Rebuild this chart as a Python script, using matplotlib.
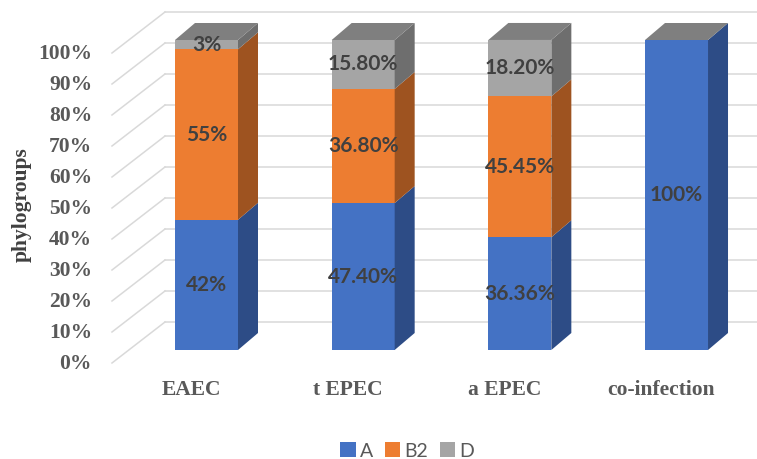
import matplotlib
matplotlib.use("Agg")
import matplotlib.pyplot as plt
from matplotlib.patches import Polygon, Rectangle, Patch

# ---- data ----
categories = ["EAEC", "t EPEC", "a EPEC", "co-infection"]
series_names = ["A", "B2", "D"]
A_vals = [42, 47.4, 36.36, 100]
B2_vals = [55, 36.8, 45.45, 0]
D_vals = [3, 15.8, 18.2, 0]
A_labels = ["42%", "47.40%", "36.36%", "100%"]
B2_labels = ["55%", "36.80%", "45.45%", ""]
D_labels = ["3%", "15.80%", "18.20%", ""]
yticks = [0, 10, 20, 30, 40, 50, 60, 70, 80, 90, 100]
ytick_labels = [f"{t}%" for t in yticks]

front_cols = ["#4472C4", "#ED7D31", "#A5A5A5"]
side_cols = ["#2D4C86", "#9E5320", "#6E6E6E"]
top_col = "#7F7F7F"
grid_col = "#D9D9D9"

# ---- geometry (in data units) ----
W, H = 757, 459
fig = plt.figure(figsize=(W / 100, H / 100), dpi=100)
ax = fig.add_axes([0, 0, 1, 1])
ax.axis("off")
xu = 156.67  # px per category
yu = 3.1     # px per percent
x0px, y0px = 206.5, 350.0
ax.set_xlim(-x0px / xu, (W - x0px) / xu)
ax.set_ylim((y0px - H) / yu, y0px / yu)

bw = 63 / xu          # bar width
ddx = 20 / xu         # bar depth x
ddy = 17 / yu         # bar depth y
wall_dy = 28 / yu     # back wall offset
edge_dy = -13 / yu    # front edge offset
wall_x = (165 - x0px) / xu
edge_x = (112 - x0px) / xu
right_x = (W - x0px) / xu

# gridlines (back wall + side diagonals)
for t in yticks:
    ax.plot([wall_x, right_x], [t + wall_dy, t + wall_dy], color=grid_col, lw=1.1, zorder=1)
    ax.plot([edge_x, wall_x], [t + edge_dy, t + wall_dy], color=grid_col, lw=1.1, zorder=1)

# tick labels
for t, lab in zip(yticks, ytick_labels):
    ax.text((92 - x0px) / xu, t + edge_dy - 0.3, lab, ha="right", va="center",
            fontsize=15.5, fontweight="bold", family="Liberation Serif", color="#595959")

# bars
series = [A_vals, B2_vals, D_vals]
labels = [A_labels, B2_labels, D_labels]
for i, cat in enumerate(categories):
    xl = i - bw / 2
    xr = i + bw / 2
    bottom = 0
    for s in range(3):
        v = series[s][i]
        if v <= 0:
            continue
        top = bottom + v
        ax.add_patch(Rectangle((xl, bottom), bw, v, facecolor=front_cols[s], edgecolor="none", zorder=3))
        ax.add_patch(Polygon([(xr, bottom), (xr + ddx, bottom + ddy), (xr + ddx, top + ddy), (xr, top)],
                             closed=True, facecolor=side_cols[s], edgecolor="none", zorder=3))
        if labels[s][i]:
            ax.text(i, bottom + v / 2, labels[s][i], ha="center", va="center", fontsize=15,
                    fontweight="bold", family="Lato", color="#404040", zorder=5)
        bottom = top
    ax.add_patch(Polygon([(xl, bottom), (xr, bottom), (xr + ddx, bottom + ddy), (xl + ddx, bottom + ddy)],
                         closed=True, facecolor=top_col, edgecolor="none", zorder=3))
    ax.text(i - 15 / xu, -40 / yu, cat, ha="center", va="center", fontsize=15.5,
            fontweight="bold", family="Liberation Serif", color="#595959")

# y label
ax.text((22 - x0px) / xu, (y0px - 205) / yu, "phylogroups", rotation=90, ha="center", va="center",
        fontsize=15.5, fontweight="bold", family="Liberation Serif", color="#404040")

# legend
handles = [Patch(facecolor=c, edgecolor="none") for c in front_cols]
leg = fig.legend(handles, series_names, loc="center", bbox_to_anchor=(407 / W, 1 - 451 / H),
                 ncol=3, frameon=False, handlelength=0.8, handleheight=0.8, handletextpad=0.2,
                 columnspacing=0.6, prop={"family": "Lato", "size": 14})
for txt in leg.get_texts():
    txt.set_color("#595959")

fig.savefig("out.png", dpi=100)
